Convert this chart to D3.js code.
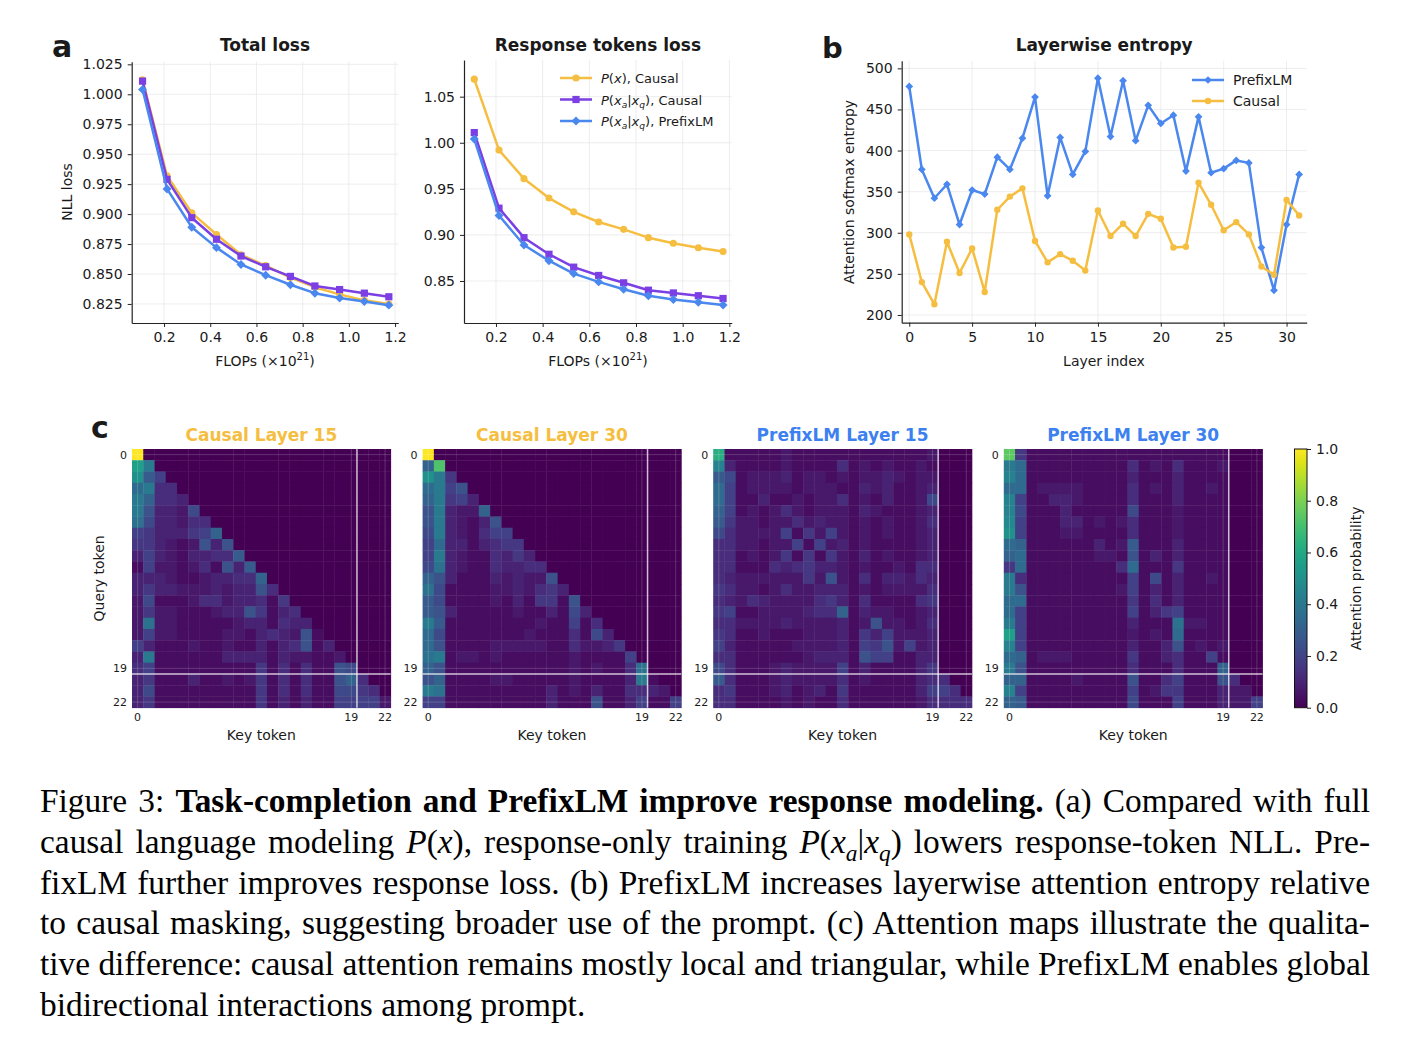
<!DOCTYPE html>
<html>
<head>
<meta charset="utf-8">
<script src="https://cdn.jsdelivr.net/npm/d3@7"></script>
<style>
  body { margin: 0; background: #fff; }
  svg { display: block; }
  text { font-family: "DejaVu Sans", sans-serif; fill: #1a1a1a; }
</style>
</head>
<body>
<svg id="fig" width="1424" height="1040"></svg>
<script>
// ---------------------------------------------------------------- data
var flops = [0.107, 0.213, 0.320, 0.427, 0.533, 0.640, 0.747, 0.853, 0.960, 1.067, 1.173];

var totalCausalPx  = [1.012, 0.932, 0.901, 0.883, 0.866, 0.857, 0.847, 0.839, 0.833, 0.828, 0.825];
var totalCausalPxa = [1.011, 0.929, 0.897, 0.879, 0.865, 0.856, 0.848, 0.840, 0.837, 0.834, 0.831];
var totalPrefixPxa = [1.004, 0.921, 0.889, 0.872, 0.858, 0.849, 0.841, 0.834, 0.830, 0.827, 0.824];

var respCausalPx  = [1.069, 0.992, 0.961, 0.940, 0.925, 0.914, 0.906, 0.897, 0.891, 0.886, 0.882];
var respCausalPxa = [1.011, 0.929, 0.897, 0.879, 0.865, 0.856, 0.848, 0.840, 0.837, 0.834, 0.831];
var respPrefixPxa = [1.004, 0.921, 0.889, 0.872, 0.858, 0.849, 0.841, 0.834, 0.830, 0.827, 0.824];

var layers = d3.range(32);
var entropyPrefix = [478, 377, 342, 359, 310, 352, 347, 392, 377, 415, 465, 345, 416, 371, 399, 488,
                     417, 485, 412, 455, 433, 443, 375, 441, 373, 378, 388, 385, 282, 230, 310, 371];
var entropyCausal = [298, 240, 213, 289, 251, 281, 228, 328, 344, 354, 290, 264, 274, 266, 254, 327,
                     296, 311, 296, 323, 317, 282, 283, 361, 334, 303, 313, 298, 259, 249, 340, 321];

var lossTicksX = [0.2, 0.4, 0.6, 0.8, 1.0, 1.2];
var totalTicksY = [0.825, 0.85, 0.875, 0.9, 0.925, 0.95, 0.975, 1.0, 1.025];
var respTicksY = [0.85, 0.9, 0.95, 1.0, 1.05];
var layerTicks = [0, 5, 10, 15, 20, 25, 30];
var entropyTicks = [200, 250, 300, 350, 400, 450, 500];
var tokenTicks = [0, 19, 22];
var probTicks = [0, 0.2, 0.4, 0.6, 0.8, 1.0];

// attention maps: one string per query row, one base-36 char per key column, value = char/32
// (rows shorter than 23 are zero on the right)
var attnCausal15 = [
  "w", "id", "g96", "bd44", "da443", "d83327", "c733244", "6533356a",
  "553212838", "3632133449", "16221241839", "33321123344a", "3533222323384",
  "27111244233415", "252211123385134", "2c22111112331433", "26221111221343281",
  "631112112113134813", "3d11111133331322112", "46111111111514141187",
  "3511131121251414118a4", "3711111111151414117754", "35111111111513131166662"
];
var attnCausal30 = [
  "w", "an", "gd5", "bd68", "ad563", "8d322a", "8d32138", "7d321466",
  "6b3313455", "6d32114353", "7c321143344", "a83111323228", "c711112232453",
  "97111121315518", "983111112113173", "d911111111211614", "b7111111121114173",
  "b81111222221142235", "cd12212111111211116", "a811111111111212114c",
  "8a11112211111211113d1", "dc11111111131213114432", "66111111111311181136116"
];
var attnPrefix15 = [
  "k1111121111111111112", "e3111121111412121121", "97122231221212232122",
  "b6122221222113231123", "b6113112122412131127", "a6121242122213211123",
  "95221224232212121124", "74222261526212121123", "44221226162312111123",
  "44121251515213121123", "44111434533212112144", "43222222528214133243",
  "54221242233312122224", "43243222245314111145", "56112222344a13221123",
  "44222232222312822124", "54112111222315362223", "63111112222316582623",
  "44111111233318661133", "74111232222613111135", "941112322224121111344",
  "4511123123151111113664", "44111121211411111124444"
];
var attnPrefix30 = [
  "o5111111111111111111", "db111111111412141112", "eb111111111311131111",
  "bb122221111412131121", "e6113321111411131111", "e7111311111711121111",
  "f6111331212411121111", "g6111221111411121111", "ba111111312911131111",
  "ab111111221813131111", "5b111111114b11151111", "d4111111111617131121",
  "d8111111112613131111", "bb111111111514131111", "b6111111111613561111",
  "d61111111113111c2211", "i61111111112121b1111", "e6111111111311381212",
  "ba122211111511341161", "d811111111141114111a", "aa1111211118114611184",
  "e611111111161255111322", "a9111111111711161113226"
];

var captionLines = [
  [["Figure 3: ", ""], ["Task-completion and PrefixLM improve response modeling.", "b"], [" (a) Compared with full", ""]],
  [["causal language modeling ", ""], ["P", "i"], ["(", ""], ["x", "i"], ["), response-only training ", ""],
   ["P", "i"], ["(", ""], ["x", "i"], ["a", "sub"], ["|", ""], ["x", "i"], ["q", "sub"], [") lowers response-token NLL. Pre-", ""]],
  [["fixLM further improves response loss. (b) PrefixLM increases layerwise attention entropy relative", ""]],
  [["to causal masking, suggesting broader use of the prompt. (c) Attention maps illustrate the qualita-", ""]],
  [["tive difference: causal attention remains mostly local and triangular, while PrefixLM enables global", ""]],
  [["bidirectional interactions among prompt.", ""]]
];

var YELLOW = '#f5be41', PURPLE = '#7b3fe4', BLUE = '#4a87ee', TITLE_BLUE = '#3d80f0';
var circleMk = { type: d3.symbolCircle, size: 40, rot: 0 };
var squareMk = { type: d3.symbolSquare, size: 52, rot: 0 };
var diamondMk = { type: d3.symbolSquare, size: 40, rot: 45 };

var svg = d3.select('#fig');
svg.append('rect').attr('width', 1424).attr('height', 1040).attr('fill', '#fff');

/*************************************************************************/

function LinePanel(opts){
  this.o = opts;
  this.create();
}

LinePanel.prototype.create = function(){
  var o = this.o;
  this.xScale = d3.scaleLinear().domain(o.xDomain).range([o.left, o.right]);
  this.yScale = d3.scaleLinear().domain(o.yDomain).range([o.bottom, o.top]);
  this.g = svg.append('g');
  this.grid();
  this.axes();
  this.g.append('text').attr('x', (o.left + o.right) / 2).attr('y', 51)
      .attr('text-anchor', 'middle').attr('font-weight', 'bold').attr('font-size', 17).text(o.title);
}

LinePanel.prototype.grid = function(){
  var x = this.xScale, y = this.yScale, o = this.o;
  var gg = this.g.append('g').attr('stroke', '#e8e8e8').attr('stroke-width', 0.8);
  gg.selectAll(null).data(o.xTicks).enter().append('line')
      .attr('x1', d => x(d)).attr('x2', d => x(d)).attr('y1', o.top).attr('y2', o.bottom);
  gg.selectAll(null).data(o.yTicks).enter().append('line')
      .attr('y1', d => y(d)).attr('y2', d => y(d)).attr('x1', o.left).attr('x2', o.right);
}

LinePanel.prototype.axes = function(){
  var o = this.o;
  var xa = this.g.append('g').attr('transform', 'translate(0,' + o.bottom + ')')
      .call(d3.axisBottom(this.xScale).tickValues(o.xTicks).tickFormat(o.xFormat)
            .tickSize(4).tickPadding(5).tickSizeOuter(0));
  var ya = this.g.append('g').attr('transform', 'translate(' + o.left + ',0)')
      .call(d3.axisLeft(this.yScale).tickValues(o.yTicks).tickFormat(o.yFormat)
            .tickSize(4).tickPadding(5).tickSizeOuter(0));
  [xa, ya].forEach(a => {
    a.attr('font-size', 14).attr('font-family', '"DejaVu Sans", sans-serif').attr('color', '#1a1a1a');
    a.select('.domain').attr('stroke-width', 1.2).attr('stroke', '#222');
    a.selectAll('.tick line').attr('stroke', '#222').attr('stroke-width', 1);
  });
}

LinePanel.prototype.series = function(xs, ys, color, mk, width){
  var x = this.xScale, y = this.yScale;
  var pts = xs.map((d, i) => [x(d), y(ys[i])]);
  this.g.append('path').attr('d', d3.line()(pts)).attr('fill', 'none')
      .attr('stroke', color).attr('stroke-width', width || 2.5).attr('stroke-linejoin', 'round');
  this.g.selectAll(null).data(pts).enter().append('path')
      .attr('transform', d => 'translate(' + d[0] + ',' + d[1] + ') rotate(' + mk.rot + ')')
      .attr('d', d3.symbol().type(mk.type).size(mk.size)).attr('fill', color);
}

function legendRow(g, x, y, color, mk, parts, fs){
  g.append('line').attr('x1', x).attr('x2', x + 32).attr('y1', y).attr('y2', y)
      .attr('stroke', color).attr('stroke-width', 2.5);
  g.append('path').attr('transform', 'translate(' + (x + 16) + ',' + y + ') rotate(' + mk.rot + ')')
      .attr('d', d3.symbol().type(mk.type).size(mk.size)).attr('fill', color);
  var t = g.append('text').attr('x', x + 41).attr('y', y + 5).attr('font-size', fs);
  richText(t, parts, fs);
}

// pieces: [text, style] with style "" | "i" | "b" | "sub"
function richText(t, parts, fs){
  var shift = 0;
  parts.forEach(p => {
    var ts = t.append('tspan').text(p[0]);
    if(p[1] == 'i') ts.attr('font-style', 'italic');
    if(p[1] == 'b') ts.attr('font-weight', 'bold');
    if(p[1] == 'sub'){
      ts.attr('font-size', fs * 0.7).attr('font-style', 'italic').attr('dy', fs * 0.25);
      shift = fs * 0.25;
    } else if(shift){
      ts.attr('dy', -shift);
      shift = 0;
    }
  });
}

function flopsLabel(g, cx){
  var t = g.append('text').attr('x', cx).attr('y', 366).attr('text-anchor', 'middle').attr('font-size', 14);
  t.append('tspan').text('FLOPs (×10');
  t.append('tspan').text('21').attr('font-size', 10).attr('dy', -6);
  t.append('tspan').text(')').attr('dy', 6);
}

/*************************************************************************/
// a: total loss
var pTotal = new LinePanel({
  title: 'Total loss', left: 131.7, right: 398.3, top: 61.7, bottom: 323,
  xDomain: [0.06, 1.214], yDomain: [0.8091, 1.0272],
  xTicks: lossTicksX, yTicks: totalTicksY, xFormat: d3.format('.1f'), yFormat: d3.format('.3f')
});
pTotal.series(flops, totalCausalPx, YELLOW, circleMk);
pTotal.series(flops, totalCausalPxa, PURPLE, squareMk);
pTotal.series(flops, totalPrefixPxa, BLUE, diamondMk);
flopsLabel(pTotal.g, 265);
pTotal.g.append('text').attr('transform', 'translate(72,192) rotate(-90)')
    .attr('text-anchor', 'middle').attr('font-size', 14).text('NLL loss');

// response tokens loss
var pResp = new LinePanel({
  title: 'Response tokens loss', left: 464, right: 731.7, top: 60, bottom: 323,
  xDomain: [0.063, 1.21], yDomain: [0.8044, 1.0898],
  xTicks: lossTicksX, yTicks: respTicksY, xFormat: d3.format('.1f'), yFormat: d3.format('.2f')
});
pResp.series(flops, respCausalPx, YELLOW, circleMk);
pResp.series(flops, respCausalPxa, PURPLE, squareMk);
pResp.series(flops, respPrefixPxa, BLUE, diamondMk);
flopsLabel(pResp.g, 598);
legendRow(pResp.g, 560, 78, YELLOW, circleMk, [['P', 'i'], ['(', ''], ['x', 'i'], ['), Causal', '']], 13);
legendRow(pResp.g, 560, 99.5, PURPLE, squareMk,
  [['P', 'i'], ['(', ''], ['x', 'i'], ['a', 'sub'], ['|', ''], ['x', 'i'], ['q', 'sub'], ['), Causal', '']], 13);
legendRow(pResp.g, 560, 121, BLUE, diamondMk,
  [['P', 'i'], ['(', ''], ['x', 'i'], ['a', 'sub'], ['|', ''], ['x', 'i'], ['q', 'sub'], ['), PrefixLM', '']], 13);

// b: layerwise entropy
var pEnt = new LinePanel({
  title: 'Layerwise entropy', left: 901.7, right: 1306.7, top: 60.7, bottom: 322.7,
  xDomain: [-0.6, 31.6], yDomain: [190.6, 509.3],
  xTicks: layerTicks, yTicks: entropyTicks, xFormat: d3.format('d'), yFormat: d3.format('d')
});
pEnt.series(layers, entropyPrefix, BLUE, { type: d3.symbolSquare, size: 30, rot: 45 });
pEnt.series(layers, entropyCausal, YELLOW, { type: d3.symbolCircle, size: 32, rot: 0 });
pEnt.g.append('text').attr('x', 1104).attr('y', 366).attr('text-anchor', 'middle')
    .attr('font-size', 14).text('Layer index');
pEnt.g.append('text').attr('transform', 'translate(854,192) rotate(-90)')
    .attr('text-anchor', 'middle').attr('font-size', 14).text('Attention softmax entropy');
legendRow(pEnt.g, 1192, 80, BLUE, { type: d3.symbolSquare, size: 30, rot: 45 }, [['PrefixLM', '']], 14);
legendRow(pEnt.g, 1192, 101, YELLOW, { type: d3.symbolCircle, size: 32, rot: 0 }, [['Causal', '']], 14);

svg.append('text').attr('x', 52).attr('y', 57).attr('font-size', 30).attr('font-weight', 'bold').attr('fill', '#000').text('a');
svg.append('text').attr('x', 822).attr('y', 58).attr('font-size', 29).attr('font-weight', 'bold').attr('fill', '#000').text('b');
svg.append('text').attr('x', 91).attr('y', 438).attr('font-size', 30).attr('font-weight', 'bold').attr('fill', '#000').text('c');

/*************************************************************************/
// c: attention maps
var nTok = 23, mapSize = 258.7, mapTop = 449;
var color = d3.scaleSequential(d3.interpolateViridis).domain([0, 1]);

function Heatmap(rows, x0, title, titleColor, showYLabel){
  var vals = rows.map(r => r.padEnd(nTok, '0').split('').map(c => parseInt(c, 36) / 32));
  var cells = [];
  vals.forEach((row, r) => row.forEach((v, c) => cells.push({ r: r, c: c, v: v })));

  var xs = d3.scaleBand().domain(d3.range(nTok)).range([x0, x0 + mapSize]);
  var ys = d3.scaleBand().domain(d3.range(nTok)).range([mapTop, mapTop + mapSize]);
  var bw = xs.bandwidth();
  var g = svg.append('g');

  g.selectAll(null).data(cells).enter().append('rect')
      .attr('x', d => xs(d.c)).attr('y', d => ys(d.r))
      .attr('width', bw + 0.4).attr('height', bw + 0.4)
      .attr('fill', d => color(d.v));

  // faint grid at tick positions, bright split after prompt token 19
  var gl = g.append('g').attr('stroke', '#fff');
  tokenTicks.forEach(t => {
    var p = xs(t) + bw / 2, q = ys(t) + bw / 2;
    gl.append('line').attr('x1', p).attr('x2', p).attr('y1', mapTop).attr('y2', mapTop + mapSize).attr('stroke-opacity', 0.18);
    gl.append('line').attr('y1', q).attr('y2', q).attr('x1', x0).attr('x2', x0 + mapSize).attr('stroke-opacity', 0.18);
  });
  var sx = xs(20), sy = ys(20);
  gl.append('line').attr('x1', sx).attr('x2', sx).attr('y1', mapTop).attr('y2', mapTop + mapSize)
      .attr('stroke-opacity', 0.75).attr('stroke-width', 1.5);
  gl.append('line').attr('y1', sy).attr('y2', sy).attr('x1', x0).attr('x2', x0 + mapSize)
      .attr('stroke-opacity', 0.75).attr('stroke-width', 1.5);

  g.selectAll(null).data(tokenTicks).enter().append('text')
      .attr('x', d => xs(d) + bw / 2).attr('y', mapTop + mapSize + 13)
      .attr('text-anchor', 'middle').attr('font-size', 11).text(d => d);
  g.selectAll(null).data(tokenTicks).enter().append('text')
      .attr('x', x0 - 5).attr('y', d => ys(d) + bw / 2 + 4)
      .attr('text-anchor', 'end').attr('font-size', 11).text(d => d);

  g.append('text').attr('x', x0 + mapSize / 2).attr('y', 740).attr('text-anchor', 'middle')
      .attr('font-size', 14).text('Key token');
  g.append('text').attr('x', x0 + mapSize / 2).attr('y', 441).attr('text-anchor', 'middle')
      .attr('font-size', 17).attr('font-weight', 'bold').style('fill', titleColor).text(title);
  if(showYLabel){
    g.append('text').attr('transform', 'translate(104,' + (mapTop + mapSize / 2) + ') rotate(-90)')
        .attr('text-anchor', 'middle').attr('font-size', 14).text('Query token');
  }
}

Heatmap(attnCausal15, 132, 'Causal Layer 15', YELLOW, true);
Heatmap(attnCausal30, 422.6, 'Causal Layer 30', YELLOW, false);
Heatmap(attnPrefix15, 713.2, 'PrefixLM Layer 15', TITLE_BLUE, false);
Heatmap(attnPrefix30, 1003.8, 'PrefixLM Layer 30', TITLE_BLUE, false);

// colorbar
var cbX = 1294.5, cbW = 12.5;
var cbScale = d3.scaleLinear().domain([0, 1]).range([mapTop + mapSize, mapTop]);
var grad = svg.append('defs').append('linearGradient').attr('id', 'viridis')
    .attr('x1', 0).attr('x2', 0).attr('y1', 1).attr('y2', 0);
d3.range(0, 1.0001, 0.05).forEach(t => {
  grad.append('stop').attr('offset', t).attr('stop-color', color(t));
});
svg.append('rect').attr('x', cbX).attr('y', mapTop).attr('width', cbW).attr('height', mapSize)
    .attr('fill', 'url(#viridis)').attr('stroke', '#111').attr('stroke-width', 1);
var cbAxis = svg.append('g').attr('transform', 'translate(' + (cbX + cbW) + ',0)')
    .call(d3.axisRight(cbScale).tickValues(probTicks).tickFormat(d3.format('.1f')).tickSize(4).tickPadding(5).tickSizeOuter(0));
cbAxis.attr('font-size', 14).attr('font-family', '"DejaVu Sans", sans-serif').attr('color', '#1a1a1a');
cbAxis.select('.domain').remove();
svg.append('text').attr('transform', 'translate(1361,' + (mapTop + mapSize / 2) + ') rotate(-90)')
    .attr('text-anchor', 'middle').attr('font-size', 14).text('Attention probability');

/*************************************************************************/
// caption, justified to the text block
var capLeft = 40, capWidth = 1330, capFs = 33.4;
captionLines.forEach((parts, i) => {
  var t = svg.append('text').attr('x', capLeft).attr('y', 812 + i * 40.8)
      .attr('font-size', capFs).style('font-family', '"Liberation Serif", "Times New Roman", serif').style('fill', '#000');
  richText(t, parts, capFs);
  if(i < captionLines.length - 1){
    var natural = t.node().getComputedTextLength();
    var spaces = parts.map(p => p[0]).join('').split(' ').length - 1;
    t.attr('word-spacing', (capWidth - natural) / spaces);
  }
});
</script>
</body>
</html>
